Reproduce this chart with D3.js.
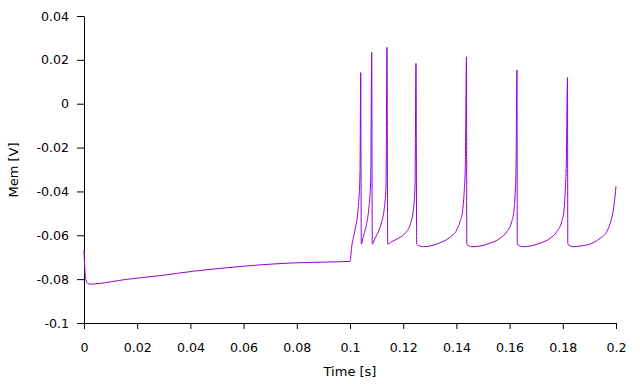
<!DOCTYPE html>
<html>
<head>
<meta charset="utf-8">
<script src="https://cdn.jsdelivr.net/npm/d3@7"></script>
<style>
  html, body { margin: 0; padding: 0; background: #ffffff; }
  svg { display: block; }
  text { font-family: "DejaVu Sans", sans-serif; }
</style>
</head>
<body>
<svg id="chart" width="640" height="384"></svg>
<script>
// Time samples [s]
const timeS = [
  0, 0.00038, 0.00075, 0.0015, 0.00226, 0.0038, 0.016, 0.02857, 0.0411, 0.05365, 0.06617, 0.0787, 0.0912, 0.1,
  0.10064, 0.10188, 0.10312, 0.10376, 0.10402, 0.10425,
  0.10500, 0.10628, 0.10714, 0.10778, 0.10816, 0.10838,
  0.1094, 0.11064, 0.11192, 0.11289, 0.11353, 0.11391, 0.11417,
  0.11568, 0.11816, 0.12068, 0.12256, 0.1238, 0.12444, 0.12481, 0.12508,
  0.12632, 0.12756, 0.13008, 0.13383, 0.13759, 0.14011, 0.14135, 0.14237, 0.14297, 0.14335, 0.1438, 0.14391,
  0.14575, 0.14887, 0.15263, 0.15639, 0.1589, 0.16079, 0.16165, 0.16214, 0.1624, 0.16278, 0.16289,
  0.16515, 0.16767, 0.17143, 0.17519, 0.1777, 0.17959, 0.18045, 0.18094, 0.18132, 0.18177, 0.18188,
  0.18395, 0.18647, 0.19023, 0.19398, 0.1965, 0.198, 0.19898, 0.19962, 0.2
];
// Membrane potential [V]
const memV = [
  -0.0667, -0.0767, -0.0804, -0.0820, -0.0823, -0.0822, -0.0801, -0.0784, -0.0764, -0.0748, -0.0735, -0.0726, -0.0722, -0.0719,
  -0.0652, -0.0576, -0.0470, -0.0316, 0.0142, -0.0640,
  -0.0606, -0.0545, -0.0470, -0.0348, 0.0234, -0.0640,
  -0.0614, -0.0584, -0.0538, -0.0477, -0.0378, 0.0257, -0.0640,
  -0.0629, -0.0614, -0.0591, -0.0553, -0.0485, -0.0378, 0.0184, -0.0641,
  -0.0649, -0.0652, -0.0649, -0.0634, -0.0609, -0.0576, -0.0538, -0.0485, -0.0393, -0.0287, 0.0214, -0.0641,
  -0.0652, -0.0649, -0.0636, -0.0614, -0.0584, -0.0538, -0.0485, -0.0393, -0.0302, 0.0154, -0.0641,
  -0.0652, -0.0649, -0.0636, -0.0614, -0.0584, -0.0538, -0.0485, -0.0393, -0.0270, 0.0119, -0.0641,
  -0.0652, -0.0649, -0.0640, -0.0614, -0.0584, -0.0538, -0.0485, -0.0424, -0.0376
];
const xTicks = [0, 0.02, 0.04, 0.06, 0.08, 0.1, 0.12, 0.14, 0.16, 0.18, 0.2];
const xTickLabels = ["0", "0.02", "0.04", "0.06", "0.08", "0.1", "0.12", "0.14", "0.16", "0.18", "0.2"];
const yTicks = [-0.1, -0.08, -0.06, -0.04, -0.02, 0, 0.02, 0.04];
const yTickLabels = ["-0.1", "-0.08", "-0.06", "-0.04", "-0.02", "0", "0.02", "0.04"];
const xTitle = "Time [s]";
const yTitle = "Mem [V]";

const svg = d3.select("#chart");
const x = d3.scaleLinear().domain([0, 0.2]).range([84, 616]);
const y = d3.scaleLinear().domain([-0.1, 0.04]).range([323, 16]);

const tickFont = "12.6px";
const titleFont = "13px";

const xAxis = svg.append("g")
  .attr("transform", "translate(0,323)")
  .call(d3.axisBottom(x).tickValues(xTicks)
    .tickFormat((d, i) => xTickLabels[i])
    .tickSize(6).tickSizeOuter(0).tickPadding(14));
xAxis.selectAll("text").attr("font-size", tickFont).attr("font-family", "DejaVu Sans").attr("fill", "#000");

const yAxis = svg.append("g")
  .attr("transform", "translate(84,0)")
  .call(d3.axisLeft(y).tickValues(yTicks)
    .tickFormat((d, i) => yTickLabels[i])
    .tickSize(7).tickSizeOuter(0).tickPadding(8));
yAxis.selectAll("text").attr("font-size", tickFont).attr("font-family", "DejaVu Sans").attr("fill", "#000");

svg.selectAll(".domain, .tick line").attr("stroke", "#000");

const pts = timeS.map((t, i) => [t, memV[i]]);
svg.append("path")
  .datum(pts)
  .attr("fill", "none")
  .attr("stroke", "#9400d3")
  .attr("stroke-width", 1)
  .attr("d", d3.line().x(d => x(d[0])).y(d => y(d[1])).curve(d3.curveMonotoneX));

svg.append("text")
  .attr("x", 350).attr("y", 372)
  .attr("text-anchor", "middle").attr("dominant-baseline", "middle")
  .attr("font-size", titleFont).attr("fill", "#000")
  .text(xTitle);

svg.append("text")
  .attr("transform", "translate(14,170) rotate(-90)")
  .attr("text-anchor", "middle").attr("dominant-baseline", "middle")
  .attr("font-size", titleFont).attr("fill", "#000")
  .text(yTitle);
</script>
</body>
</html>
